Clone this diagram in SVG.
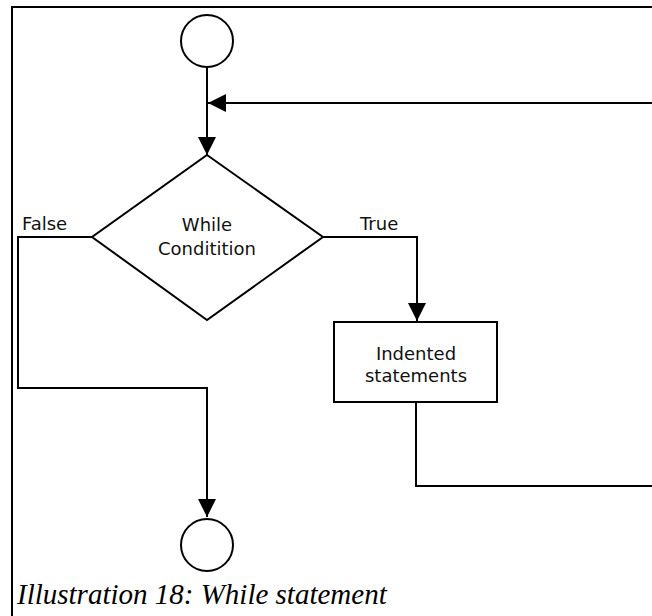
<svg xmlns="http://www.w3.org/2000/svg" width="652" height="616" viewBox="0 0 652 616">
<style>
.ln{fill:none;stroke:#000;stroke-width:2}
.shape{fill:#fff;stroke:#000;stroke-width:2}
.lbl{font-family:"DejaVu Sans",Verdana,sans-serif;font-size:18px;fill:#111}
.mid{text-anchor:middle}
.cap{font-family:"Liberation Serif","Times New Roman",serif;font-style:italic;font-size:29px;fill:#000}
</style>
<defs>
<marker id="ah" viewBox="0 0 18 18" refX="18" refY="9" markerWidth="18" markerHeight="18" markerUnits="userSpaceOnUse" orient="auto">
<path d="M0,0 L18,9 L0,18 Z" fill="#000"/>
</marker>
</defs>
<rect width="652" height="616" fill="#fff"/>
<g id="frame">
<path class="ln" d="M12,616 V7 H652"/>
</g>
<g id="connectors">
<path class="ln" d="M207,67 V155" marker-end="url(#ah)"/>
<path class="ln" d="M652,103 H208" marker-end="url(#ah)"/>
<path class="ln" d="M323,237 H417 V321" marker-end="url(#ah)"/>
<path class="ln" d="M92,237 H18 V388 H207 V517" marker-end="url(#ah)"/>
<path class="ln" d="M416,402 V486 H652"/>
</g>
<g id="start">
<circle class="shape" cx="207" cy="41" r="26"/>
</g>
<g id="condition">
<polygon class="shape" points="207,155 323,237 207,320 92,237"/>
<text class="lbl mid" x="207" y="231">While</text>
<text class="lbl mid" x="207" y="255">Conditition</text>
</g>
<g id="labels">
<text class="lbl" x="22" y="230">False</text>
<text class="lbl" x="360" y="230">True</text>
</g>
<g id="body">
<rect class="shape" x="334" y="322" width="163" height="80"/>
<text class="lbl mid" x="416" y="360">Indented</text>
<text class="lbl mid" x="416" y="382">statements</text>
</g>
<g id="end">
<circle class="shape" cx="207" cy="545" r="26"/>
</g>
<g id="caption">
<text class="cap" x="17" y="604">Illustration 18: While statement</text>
</g>
</svg>
